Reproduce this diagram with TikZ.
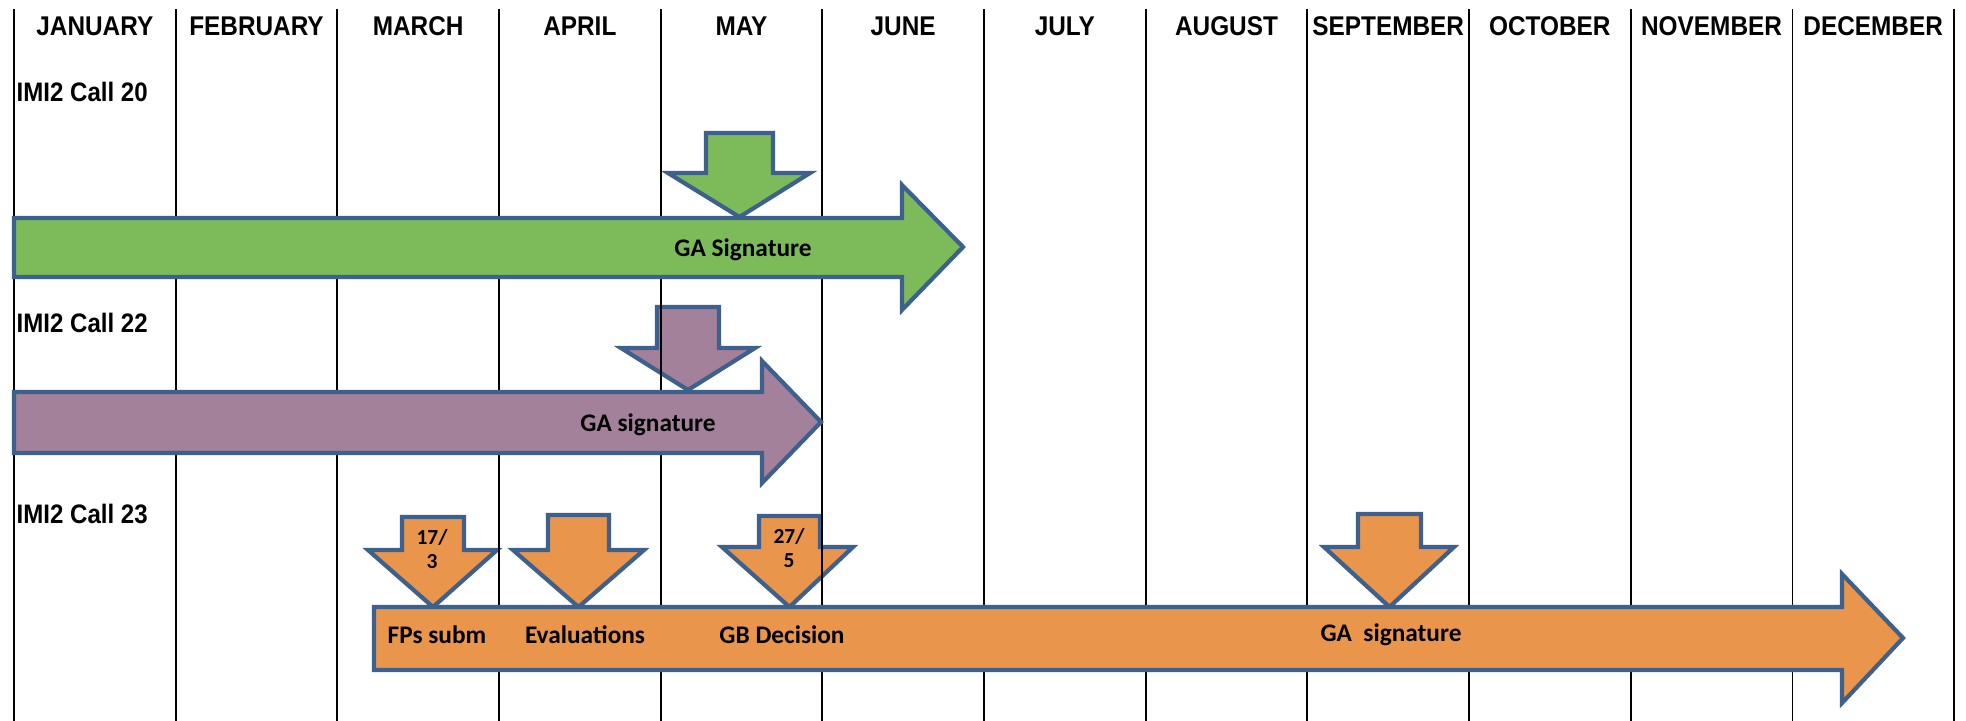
\documentclass[tikz,border=0pt]{standalone}
\usepackage{fontspec}
\setmainfont{Liberation Sans}
\newfontfamily\hdrfont[FakeStretch = 0.9]{Liberation Sans}
\newfontfamily\calfont{Carlito}
\definecolor{edgeblue}{RGB}{62,96,140}
\definecolor{callgreen}{RGB}{125,187,90}
\definecolor{callpurple}{RGB}{163,129,155}
\definecolor{callorange}{RGB}{233,150,76}
\begin{document}
\begin{tikzpicture}[x = 0.01cm, y = -0.01cm,
  gridline/.style = {draw = black, line width = 0.5pt},
  arrowshape/.style = {draw = edgeblue, line width = 1.2pt, line join = miter},
  month/.style = {font = \hdrfont\bfseries\fontsize{7.7}{8}\selectfont, inner sep = 0},
  rowtext/.style = {font = \hdrfont\bfseries\fontsize{7.6}{8}\selectfont, anchor = west, inner sep = 0},
  bartext/.style = {font = \calfont\bfseries\fontsize{7.2}{8}\selectfont, inner sep = 0},
  datetext/.style = {font = \calfont\bfseries\fontsize{6.1}{6.6}\selectfont, align = center, inner sep = 0}]
\useasboundingbox (0,0) rectangle (1966,721);
\pgfmathsetmacro\colw{161.67};
\pgfmathsetmacro\xzero{14};
% small down arrows sit behind the month grid
\foreach \sl/\sr/\wl/\wr/\st/\sh/\ty/\col in {706/773/668/810/133/173/217/callgreen,
    657/719/621/755/307/348/390/callpurple,
    402/464/368/497/517/550/607/callorange,
    548/609/513/644/515/550/607/callorange,
    759/820/722/853/516/547/607/callorange,
    1358/1421/1324/1454/514/547/607/callorange}
  \draw [arrowshape, fill = \col] (\sl,\st) -- (\sr,\st) -- (\sr,\sh) -- (\wr,\sh) -- ({(\sl+\sr)/2},\ty) -- (\wl,\sh) -- (\sl,\sh) -- cycle;
% month grid
\foreach \n in {0,...,12} \draw [gridline] (\xzero+\colw*\n,9) -- (\xzero+\colw*\n,721);
\foreach \m [count = \i] in {JANUARY,FEBRUARY,MARCH,APRIL,MAY,JUNE,JULY,AUGUST,SEPTEMBER,OCTOBER,NOVEMBER,DECEMBER}
  \node [month] (m\i) at (\xzero+\colw*\i-\colw/2,26) {\m};
% call rows
\node [rowtext] (c20) at (16,92) {IMI2 Call 20};
\node [rowtext] (c22) at (16,323) {IMI2 Call 22};
\node [rowtext] (c23) at (16,514) {IMI2 Call 23};
% big arrows
\draw [arrowshape, fill = callgreen] (14,218) -- (902,218) -- (902,185) -- (963,247) -- (902,310) -- (902,277) -- (14,277) -- cycle;
\draw [arrowshape, fill = callpurple] (14,392) -- (762,392) -- (762,361) -- (821,422) -- (762,483) -- (762,453) -- (14,453) -- cycle;
\draw [arrowshape, fill = callorange] (374,607) -- (1842,607) -- (1842,574) -- (1903,638) -- (1842,703) -- (1842,670) -- (374,670) -- cycle;
\node [bartext] (sig20) at (743,250) {GA Signature};
\node [bartext] (sig22) at (648,425) {GA signature};
\node [bartext] (fps) at (437,635) {FPs subm};
\node [bartext] (eval) at (585,635) {Evaluations};
\node [bartext] (gbd) at (782,635) {GB Decision};
\node [bartext] (sig23) at (1391,635) {GA\ \ signature};
\node [datetext] (d17) at (432,549) {17/\\3};
\node [datetext] (d27) at (789,548) {27/\\5};
\end{tikzpicture}
\end{document}
